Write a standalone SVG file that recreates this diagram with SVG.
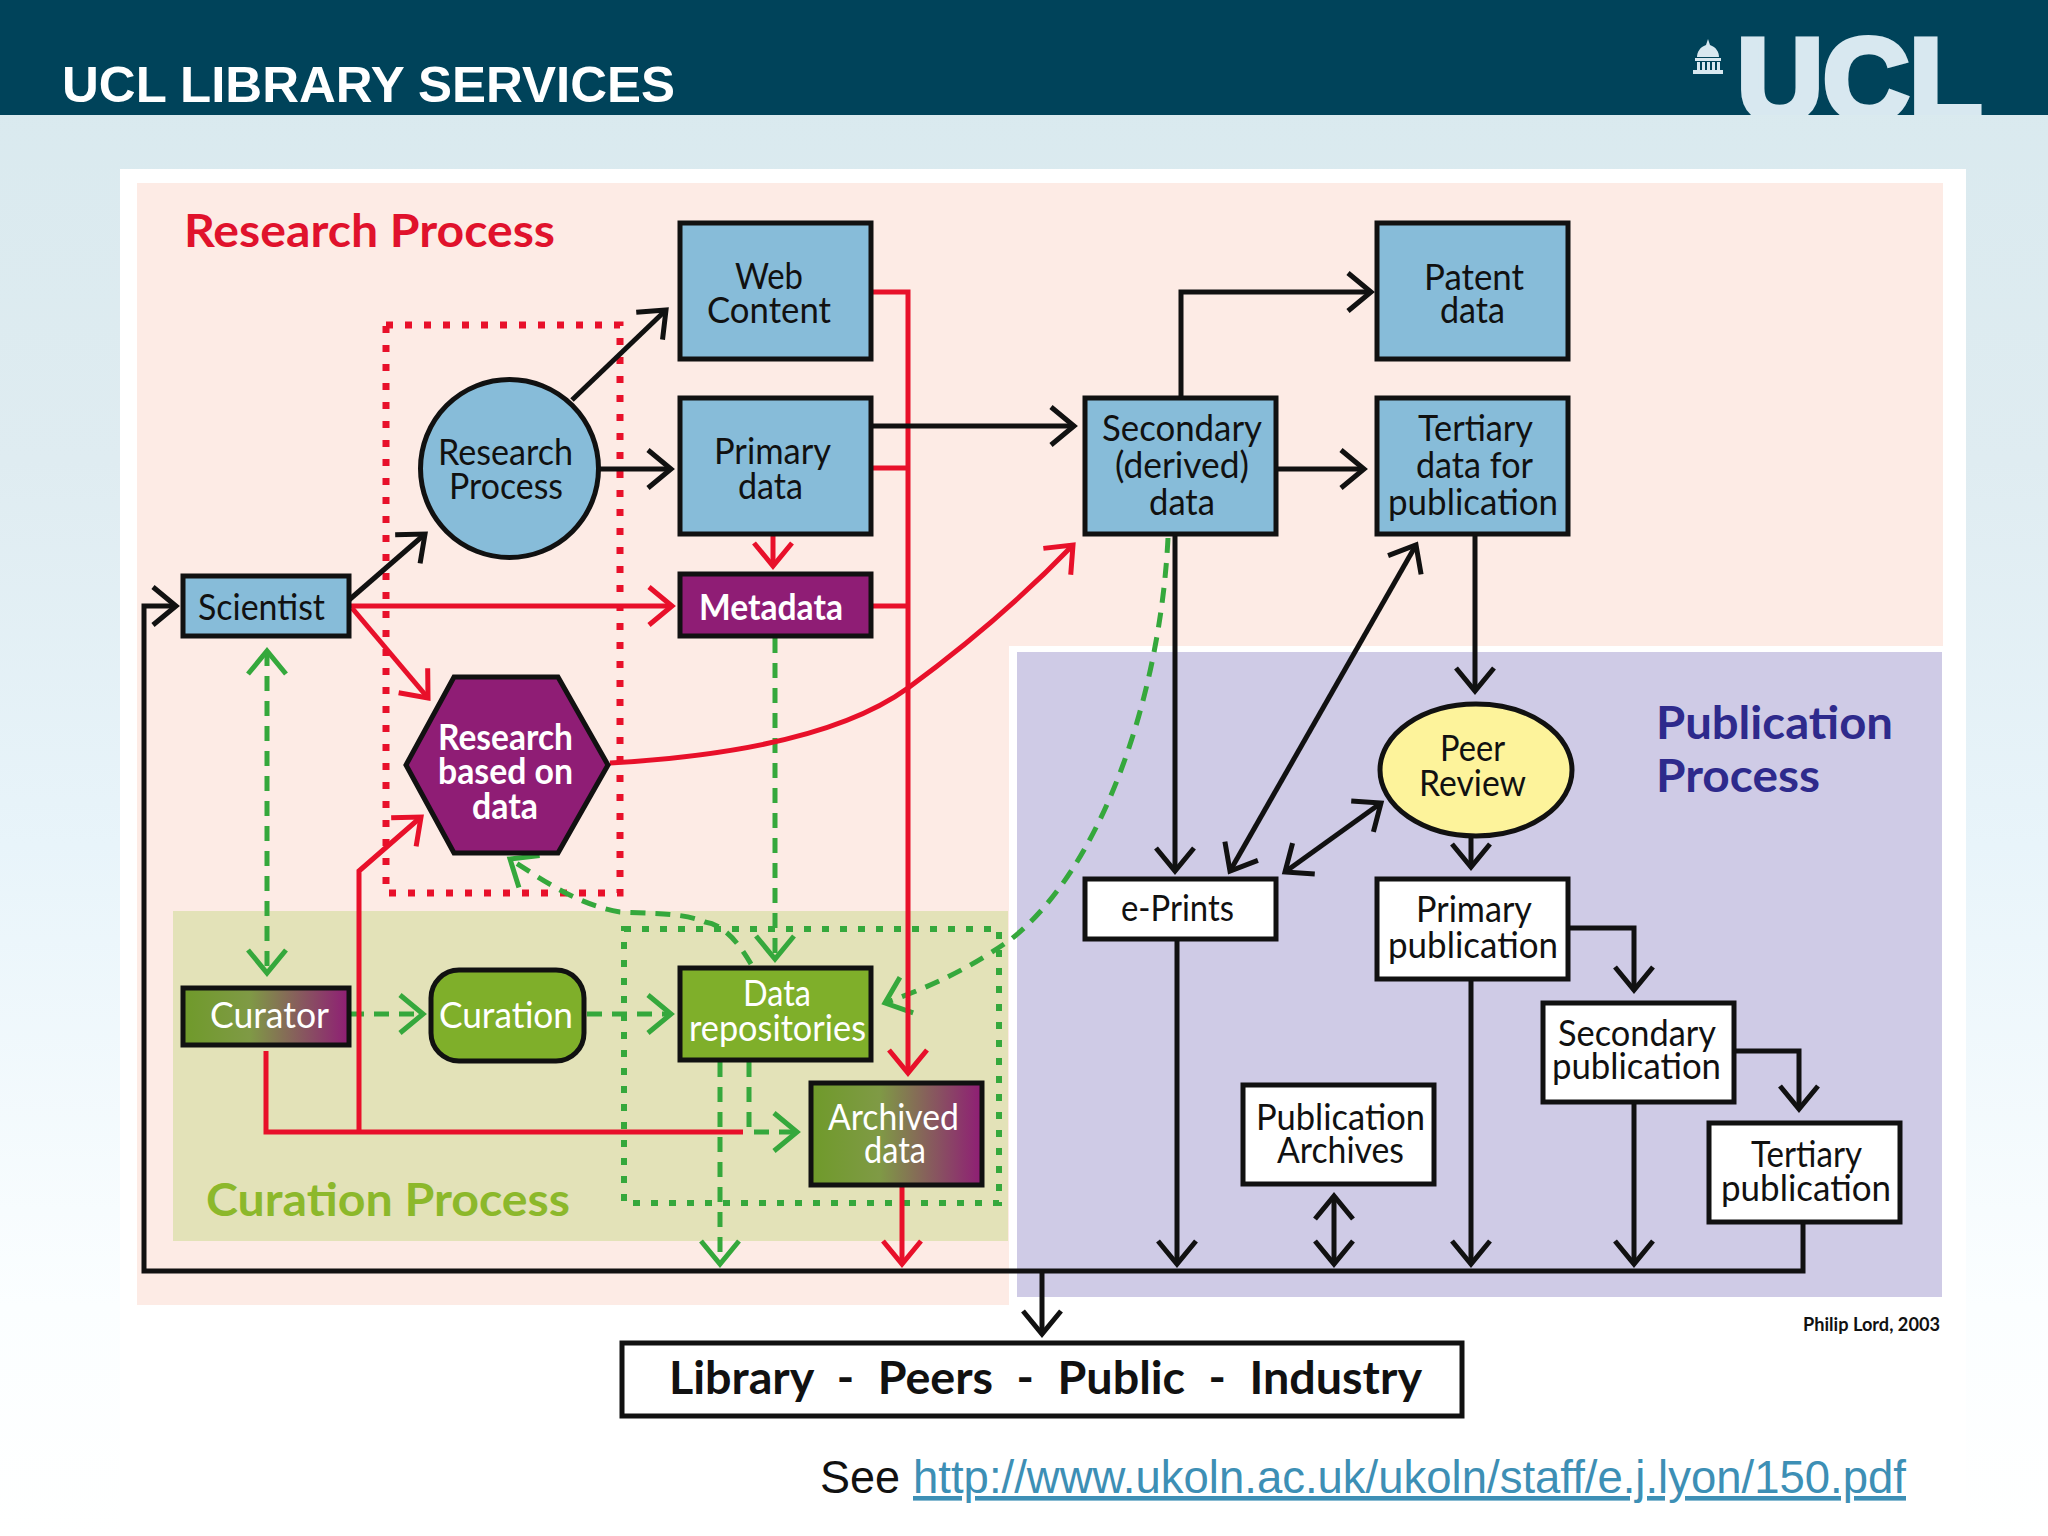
<svg xmlns="http://www.w3.org/2000/svg" width="2048" height="1536" viewBox="0 0 2048 1536">
<style>
text{font-family:"Lato","Noto Sans",sans-serif;fill:#111}
.l{font-size:37px}
.w{font-size:37px;fill:#fff}
.wb{font-size:37px;fill:#fff;font-weight:700}
.h{font-size:46px;font-weight:700}
.n{stroke:#111;stroke-width:5}
.blue{fill:#87bcd9}
.pur{fill:#8f1d75}
.grn{fill:#7faf2a}
.wht{fill:#fff}
.k,.r,.g{fill:none}
.k{stroke:#111;stroke-width:5}
.r{stroke:#e8102a;stroke-width:5}
.g{stroke:#35a83c;stroke-width:5;stroke-dasharray:15 10}
.ka{marker-end:url(#mk)}
.kb{marker-start:url(#mk);marker-end:url(#mk)}
.ra{marker-end:url(#mr)}
.ga{marker-end:url(#mg)}
.gb{marker-start:url(#mg);marker-end:url(#mg)}
.sans{font-family:"Liberation Sans",Arial,sans-serif}
</style>
<defs>
<linearGradient id="bg" x1="0" y1="0" x2="0" y2="1"><stop offset="0" stop-color="#d8e9ee"/><stop offset=".3" stop-color="#dfecf1"/><stop offset=".55" stop-color="#e8f4fa"/><stop offset=".85" stop-color="#fbfeff"/><stop offset="1" stop-color="#fff"/></linearGradient>
<linearGradient id="gp" x1="0" y1="0" x2="1" y2="0"><stop offset="0" stop-color="#6f9a2a"/><stop offset=".4" stop-color="#7f9a45"/><stop offset="1" stop-color="#8f1d75"/></linearGradient>
<marker id="mk" markerUnits="userSpaceOnUse" markerWidth="60" markerHeight="60" viewBox="-50 -30 60 60" refX="0" refY="0" orient="auto-start-reverse"><path d="M-23 -19L0 0L-23 19" fill="none" stroke="#111" stroke-width="5"/></marker>
<marker id="mr" markerUnits="userSpaceOnUse" markerWidth="60" markerHeight="60" viewBox="-50 -30 60 60" refX="0" refY="0" orient="auto-start-reverse"><path d="M-23 -19L0 0L-23 19" fill="none" stroke="#e8102a" stroke-width="5"/></marker>
<marker id="mg" markerUnits="userSpaceOnUse" markerWidth="60" markerHeight="60" viewBox="-50 -30 60 60" refX="0" refY="0" orient="auto-start-reverse"><path d="M-23 -19L0 0L-23 19" fill="none" stroke="#35a83c" stroke-width="5"/></marker>
<clipPath id="hc"><rect x="0" y="0" width="2048" height="115"/></clipPath>
</defs>

<g id="background">
<rect width="2048" height="1536" fill="url(#bg)"/>
<rect x="0" y="0" width="2048" height="115" fill="#00435a"/>
<text class="sans" x="62" y="102" font-size="50" font-weight="700" style="fill:#fff" textLength="613" lengthAdjust="spacingAndGlyphs">UCL LIBRARY SERVICES</text>
<g id="logo" clip-path="url(#hc)" fill="#d8e8f0">
<text class="sans" x="1737" y="120" font-size="116" font-weight="700" style="fill:#d8e8f0;stroke:#d8e8f0;stroke-width:6" textLength="245" lengthAdjust="spacingAndGlyphs">UCL</text>
<path d="M1708 39l2 6c6 2 9 7 9 12h-22c0-5 3-10 9-12zM1695 58h26v3h-26zM1697 62h3v8h-3zM1702 62h3v8h-3zM1707 62h3v8h-3zM1712 62h3v8h-3zM1717 62h3v8h-3zM1693 70h30v4h-30z"/>
</g>
<rect x="120" y="169" width="1846" height="1367" fill="#fff"/>
<path d="M137 183H1943V646H1009V1305H137Z" fill="#fdebe5"/>
<rect x="1017" y="652" width="925" height="645" fill="#cfcbe6"/>
<rect x="173" y="911" width="835" height="330" fill="#e3e2b8"/>
</g>

<g id="region-labels">
<text class="h" x="184" y="247" style="fill:#e0122c" textLength="371" lengthAdjust="spacingAndGlyphs">Research Process</text>
<text class="h" x="206" y="1216" style="fill:#8cb82b" textLength="364" lengthAdjust="spacingAndGlyphs">Curation Process</text>
<text class="h" x="1656" y="739" style="fill:#2e2a8c" textLength="237" lengthAdjust="spacingAndGlyphs">Publication</text>
<text class="h" x="1656" y="792" style="fill:#2e2a8c" textLength="164" lengthAdjust="spacingAndGlyphs">Process</text>
<text x="1803" y="1331" font-size="18" font-weight="700" textLength="137" lengthAdjust="spacingAndGlyphs">Philip Lord, 2003</text>
</g>

<g id="connectors">
<rect x="386" y="325" width="234" height="568" fill="none" stroke="#e8102a" stroke-width="7" stroke-dasharray="7 12"/>
<rect x="624" y="929" width="375" height="274" fill="none" stroke="#35a83c" stroke-width="6" stroke-dasharray="7 11"/>

<path class="g gb" d="M267 651V973"/>
<path class="g ga" d="M349 1014H423"/>
<path class="g ga" d="M587 1014H671"/>
<path class="g ga" d="M775 638V959"/>
<path class="g ga" d="M751 964C740 945 725 925 705 922C680 912 650 914 620 912C580 905 550 885 510 859"/>
<path class="g ga" d="M1168 538C1160 700 1100 870 1010 940C960 975 920 990 885 1003"/>
<path class="g ga" d="M749 1062V1132H797"/>
<path class="g ga" d="M720 1062V1264"/>

<path class="r ra" d="M349 606H672"/>
<path class="r ra" d="M352 608L428 698"/>
<path class="r ra" d="M773 534V566"/>
<path class="r ra" d="M873 292H908V1073"/>
<path class="r" d="M873 468H908M873 606H908"/>
<path class="r ra" d="M610 763C750 755 850 730 908 688C960 650 1020 600 1073 545"/>
<path class="r" d="M266 1051V1132H743"/>
<path class="r ra" d="M359 1132V871L421 817"/>
<path class="r ra" d="M902 1186V1264"/>

<path class="k ka" d="M349 600L425 534"/>
<path class="k ka" d="M572 400L666 310"/>
<path class="k ka" d="M599 469H671"/>
<path class="k ka" d="M873 426H1074"/>
<path class="k ka" d="M1181 397V292H1371"/>
<path class="k ka" d="M1277 469H1364"/>
<path class="k ka" d="M1475 534V691"/>
<path class="k kb" d="M1416 545L1230 871"/>
<path class="k ka" d="M1175 534V871"/>
<path class="k kb" d="M1285 872L1381 803"/>
<path class="k ka" d="M1471 836V867"/>
<path class="k ka" d="M1569 928H1634V990"/>
<path class="k ka" d="M1736 1051H1799V1109"/>
<path class="k ka" d="M1177 940V1264"/>
<path class="k kb" d="M1334 1196V1264"/>
<path class="k ka" d="M1471 980V1264"/>
<path class="k ka" d="M1634 1103V1264"/>
<path class="k ka" d="M1803 1223V1271H144V606H176"/>
<path class="k ka" d="M1042 1271V1334"/>
</g>

<g id="scientist"><rect class="n blue" x="183" y="576" width="166" height="60"/><text class="l" x="198" y="620" textLength="127" lengthAdjust="spacingAndGlyphs">Scientist</text></g>
<g id="research-process"><circle class="n blue" cx="509.500" cy="468.500" r="89"/><text class="l" x="438" y="465" textLength="135" lengthAdjust="spacingAndGlyphs">Research</text><text class="l" x="449" y="499" textLength="114" lengthAdjust="spacingAndGlyphs">Process</text></g>
<g id="web-content"><rect class="n blue" x="680" y="223" width="191" height="136"/><text class="l" x="735" y="289" textLength="68" lengthAdjust="spacingAndGlyphs">Web</text><text class="l" x="707" y="323" textLength="124" lengthAdjust="spacingAndGlyphs">Content</text></g>
<g id="primary-data"><rect class="n blue" x="680" y="398" width="191" height="136"/><text class="l" x="714" y="464" textLength="117" lengthAdjust="spacingAndGlyphs">Primary</text><text class="l" x="738" y="499" textLength="65" lengthAdjust="spacingAndGlyphs">data</text></g>
<g id="metadata"><rect class="n pur" x="680" y="574" width="191" height="62"/><text class="wb" x="699" y="620" textLength="144" lengthAdjust="spacingAndGlyphs">Metadata</text></g>
<g id="patent-data"><rect class="n blue" x="1377" y="223" width="191" height="136"/><text class="l" x="1424" y="290" textLength="100" lengthAdjust="spacingAndGlyphs">Patent</text><text class="l" x="1440" y="323" textLength="65" lengthAdjust="spacingAndGlyphs">data</text></g>
<g id="secondary-data"><rect class="n blue" x="1085" y="398" width="191" height="136"/><text class="l" x="1102" y="441" textLength="160" lengthAdjust="spacingAndGlyphs">Secondary</text><text class="l" x="1115" y="478" textLength="134" lengthAdjust="spacingAndGlyphs">(derived)</text><text class="l" x="1149" y="515" textLength="66" lengthAdjust="spacingAndGlyphs">data</text></g>
<g id="tertiary-data"><rect class="n blue" x="1377" y="398" width="191" height="136"/><text class="l" x="1418" y="441" textLength="115" lengthAdjust="spacingAndGlyphs">Tertiary</text><text class="l" x="1416" y="478" textLength="117" lengthAdjust="spacingAndGlyphs">data for</text><text class="l" x="1388" y="515" textLength="170" lengthAdjust="spacingAndGlyphs">publication</text></g>
<g id="research-based-on-data"><path class="n pur" d="M454 677H558L608 765L558 853H454L406 765Z"/><text class="wb" x="438" y="750" textLength="135" lengthAdjust="spacingAndGlyphs">Research</text><text class="wb" x="438" y="784" textLength="135" lengthAdjust="spacingAndGlyphs">based on</text><text class="wb" x="472" y="819" textLength="66" lengthAdjust="spacingAndGlyphs">data</text></g>
<g id="curator"><rect class="n" fill="url(#gp)" x="183" y="988" width="166" height="57"/><text class="w" x="210" y="1028" textLength="119" lengthAdjust="spacingAndGlyphs">Curator</text></g>
<g id="curation"><rect class="n grn" x="431" y="970" width="153" height="91" rx="28"/><text class="w" x="439" y="1028" textLength="134" lengthAdjust="spacingAndGlyphs">Curation</text></g>
<g id="data-repositories"><rect class="n grn" x="680" y="968" width="191" height="92"/><text class="w" x="743" y="1006" textLength="68" lengthAdjust="spacingAndGlyphs">Data</text><text class="w" x="689" y="1041" textLength="177" lengthAdjust="spacingAndGlyphs">repositories</text></g>
<g id="archived-data"><rect class="n" fill="url(#gp)" x="811" y="1083" width="171" height="102"/><text class="w" x="828" y="1130" textLength="131" lengthAdjust="spacingAndGlyphs">Archived</text><text class="w" x="864" y="1163" textLength="62" lengthAdjust="spacingAndGlyphs">data</text></g>
<g id="peer-review"><ellipse class="n" fill="#fdf39b" cx="1476" cy="770" rx="96" ry="66"/><text class="l" x="1440" y="761" textLength="65" lengthAdjust="spacingAndGlyphs">Peer</text><text class="l" x="1419" y="796" textLength="107" lengthAdjust="spacingAndGlyphs">Review</text></g>
<g id="e-prints"><rect class="n wht" x="1085" y="879" width="191" height="60"/><text class="l" x="1121" y="921" textLength="113" lengthAdjust="spacingAndGlyphs">e-Prints</text></g>
<g id="primary-publication"><rect class="n wht" x="1377" y="879" width="191" height="100"/><text class="l" x="1416" y="922" textLength="116" lengthAdjust="spacingAndGlyphs">Primary</text><text class="l" x="1388" y="958" textLength="170" lengthAdjust="spacingAndGlyphs">publication</text></g>
<g id="secondary-publication"><rect class="n wht" x="1543" y="1003" width="191" height="99"/><text class="l" x="1558" y="1046" textLength="158" lengthAdjust="spacingAndGlyphs">Secondary</text><text class="l" x="1552" y="1079" textLength="169" lengthAdjust="spacingAndGlyphs">publication</text></g>
<g id="tertiary-publication"><rect class="n wht" x="1709" y="1123" width="191" height="99"/><text class="l" x="1751" y="1167" textLength="111" lengthAdjust="spacingAndGlyphs">Tertiary</text><text class="l" x="1721" y="1201" textLength="170" lengthAdjust="spacingAndGlyphs">publication</text></g>
<g id="publication-archives"><rect class="n wht" x="1243" y="1085" width="191" height="99"/><text class="l" x="1256" y="1130" textLength="169" lengthAdjust="spacingAndGlyphs">Publication</text><text class="l" x="1277" y="1163" textLength="127" lengthAdjust="spacingAndGlyphs">Archives</text></g>
<g id="audience"><rect class="n wht" x="622" y="1343" width="840" height="73"/><text x="669" y="1394" font-size="46" font-weight="700" word-spacing="12" textLength="753" lengthAdjust="spacingAndGlyphs">Library - Peers - Public - Industry</text></g>

<g id="footer">
<text class="sans" x="820" y="1493" font-size="46" textLength="80" lengthAdjust="spacingAndGlyphs">See</text>
<text class="sans" x="913" y="1493" font-size="46" style="fill:#3d8fb5" textLength="993" lengthAdjust="spacingAndGlyphs" text-decoration="underline">http://www.ukoln.ac.uk/ukoln/staff/e.j.lyon/150.pdf</text>
</g>
</svg>
